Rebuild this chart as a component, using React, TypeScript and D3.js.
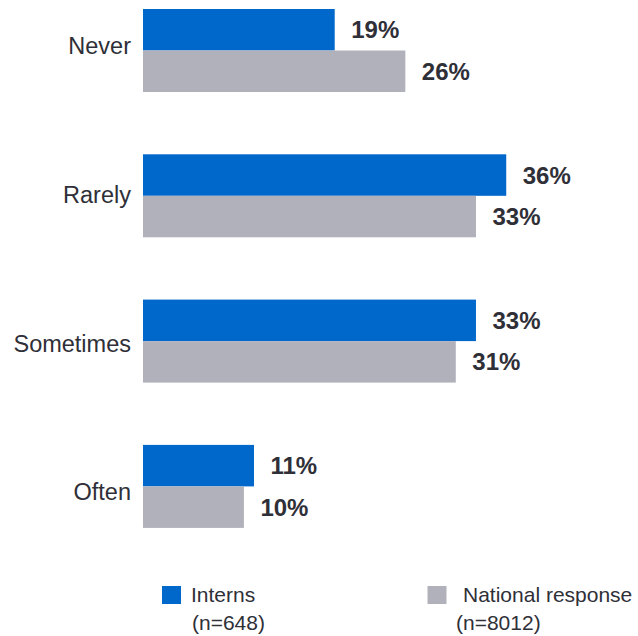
import React from "react";
import * as d3 from "d3";

const categories = ["Never", "Rarely", "Sometimes", "Often"];
const internsValues = [19, 36, 33, 11];
const nationalValues = [26, 33, 31, 10];
const seriesNames = ["Interns", "National response"];
const seriesNotes = ["(n=648)", "(n=8012)"];

const W = 638;
const H = 636;
const BLUE = "#0068CA";
const GRAY = "#B1B1BC";
const TEXT = "#2f2f38";
const FONT = "'Liberation Sans', Arial, sans-serif";

export default function App() {
  const x = d3.scaleLinear().domain([0, 50]).range([143, 143 + 504.5]);
  const yGroup = d3
    .scaleBand<string>()
    .domain(categories)
    .range([9, 527.9])
    .paddingInner(0.4288)
    .paddingOuter(0);
  const ySeries = d3
    .scaleBand<number>()
    .domain([0, 1])
    .range([0, yGroup.bandwidth()])
    .padding(0);
  const yLabel = d3.scalePoint<string>().domain(categories).range([45.7, 491.8]);

  const series = [internsValues, nationalValues];
  const colors = [BLUE, GRAY];

  const legendItems = [
    { rx: 162, tx: 191, nx: 192 },
    { rx: 427.5, tx: 463, nx: 456 },
  ];

  return (
    <svg
      width={W}
      height={H}
      style={{ position: "absolute", left: 0, top: 0, display: "block", background: "#fff" }}
      fontFamily={FONT}
    >
      {categories.map((c, i) => (
        <g key={c}>
          <text
            x={131}
            y={(yLabel(c) ?? 0) + 8.4}
            textAnchor="end"
            fontSize={23.5}
            fill={TEXT}
          >
            {c}
          </text>
          {series.map((vals, s) => {
            const y0 = (yGroup(c) ?? 0) + (ySeries(s) ?? 0);
            const h = ySeries.bandwidth();
            return (
              <g key={s}>
                <rect x={x(0)} y={y0} width={x(vals[i]) - x(0)} height={h} fill={colors[s]} />
                <text
                  x={x(vals[i]) + 16.5}
                  y={y0 + h / 2 + 8.6}
                  fontSize={24}
                  fontWeight="bold"
                  fill={TEXT}
                >
                  {vals[i]}%
                </text>
              </g>
            );
          })}
        </g>
      ))}
      {legendItems.map((l, s) => (
        <g key={s}>
          <rect x={l.rx} y={586} width={19} height={18} fill={colors[s]} />
          <text x={l.tx} y={601.7} fontSize={21} fill={TEXT}>
            {seriesNames[s]}
          </text>
          <text x={l.nx} y={630} fontSize={21} fill={TEXT}>
            {seriesNotes[s]}
          </text>
        </g>
      ))}
    </svg>
  );
}
